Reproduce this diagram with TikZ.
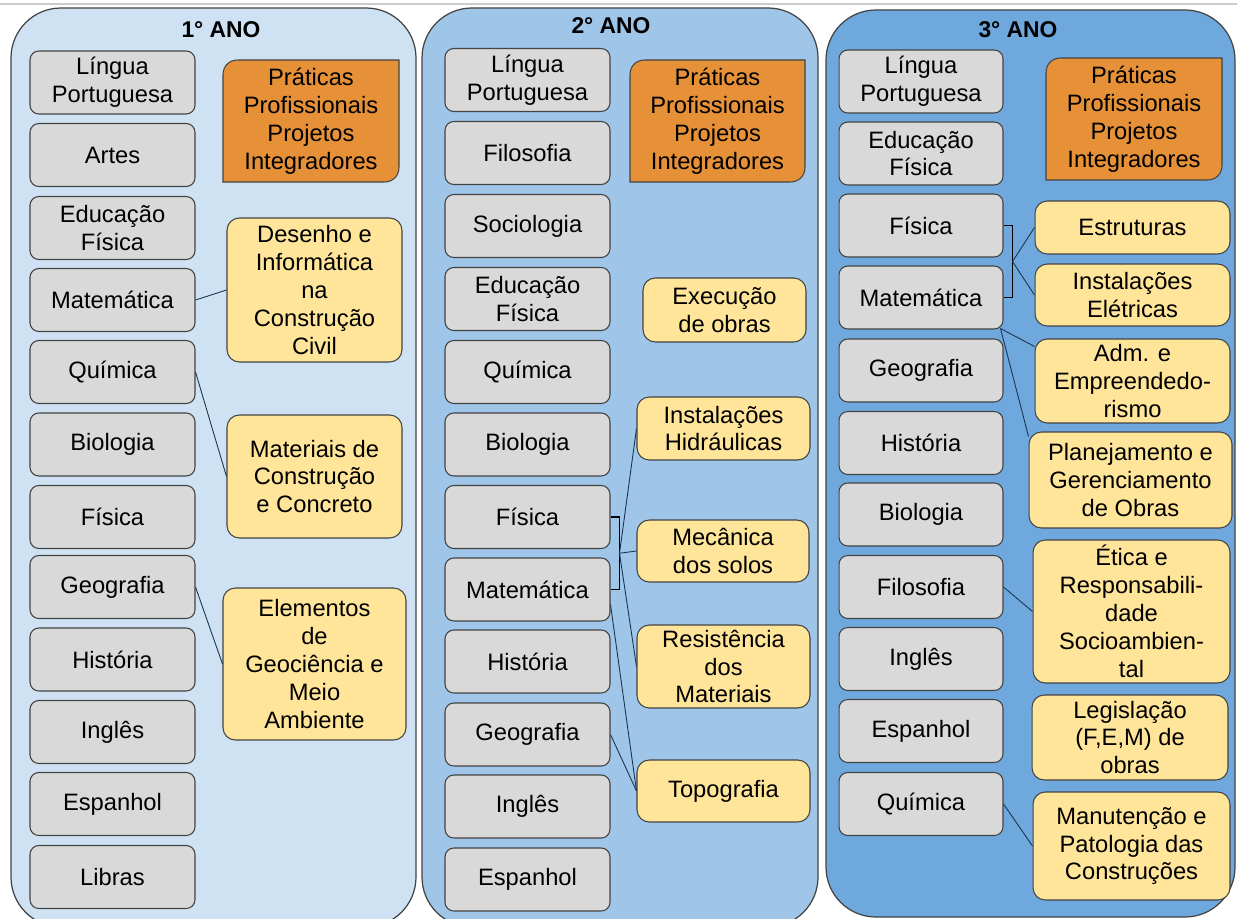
\documentclass[tikz,border=0pt]{standalone}
\usepackage{fontspec}
\setmainfont{Liberation Sans}
\usetikzlibrary{calc}
\definecolor{ano1}{HTML}{CFE2F3}
\definecolor{ano2}{HTML}{9FC5E8}
\definecolor{ano3}{HTML}{6FA8DC}
\definecolor{discgray}{HTML}{D9D9D9}
\definecolor{pratorange}{HTML}{E69138}
\definecolor{techyellow}{HTML}{FFE599}
\definecolor{edge}{HTML}{434343}
\definecolor{linkblue}{HTML}{1C3350}
\newcommand{\subj}{\fontsize{13.5}{15.9}\selectfont}
\tikzset{
  disc/.style={draw=edge, fill=discgray, line width=0.6pt, rounded corners=5pt, minimum width=3.3cm, minimum height=1.26cm, align=center, inner sep=1pt, font=\subj},
  tech/.style={draw=edge, fill=techyellow, line width=0.6pt, rounded corners=7pt, align=center, inner sep=1pt, font=\subj},
  prat/.style={align=center, inner sep=1pt, font=\subj},
  ano/.style={draw=edge, line width=0.7pt, rounded corners=1cm},
  title/.style={font=\fontsize{13}{15}\selectfont\bfseries},
  link/.style={draw=linkblue, line width=0.5pt},
  brace/.style={draw=black, line width=0.9pt},
}

\begin{document}
\begin{tikzpicture}[x=0.02cm, y=-0.02cm]
	\useasboundingbox (0,0) rectangle (1237,919);
	\clip (0,0) rectangle (1237,919);
	\draw[gray!40, line width=1pt] (0,4) -- (1237,4);
	\filldraw[ano, fill=ano1] (11,8) rectangle (416,927);
	\filldraw[ano, fill=ano2] (422,8) rectangle (818,927);
	\filldraw[ano, fill=ano3] (826,10) rectangle (1235,917);
	\node[title] (t1) at (221,30) {1° ANO};
	\node[title] (t2) at (611,26) {2° ANO};
	\node[title] (t3) at (1018,30) {3° ANO};
	%%%%% praticas
	\foreach \n/\xa/\ya/\xb/\yb in {pp1/223/60/399/182, pp2/630/60/805/182, pp3/1046/58/1222/180} {
		\filldraw[fill=pratorange, draw=edge, line width=0.6pt] (\xa,\yb) -- (\xa,\ya+15) .. controls (\xa,\ya+6) and (\xa+6,\ya) .. (\xa+15,\ya) -- (\xb,\ya) -- (\xb,\yb-15) .. controls (\xb,\yb-6) and (\xb-6,\yb) .. (\xb-15,\yb) -- cycle;
		\node[prat] (\n) at ({(\xa+\xb)/2},{(\ya+\yb)/2}) {Práticas\\Profissionais\\Projetos\\Integradores};
	}
	%%%%% 1 ano
	\node[disc] (lp1) at (112.5,82.5) {Língua\\Portuguesa};
	\node[disc] (art1) at (112.5,155) {Artes};
	\node[disc] (ef1) at (112.5,228) {Educação\\Física};
	\node[disc] (mat1) at (112.5,300) {Matemática};
	\node[disc] (qui1) at (112.5,372) {Química};
	\node[disc] (bio1) at (112.5,444.5) {Biologia};
	\node[disc] (fis1) at (112.5,517) {Física};
	\node[disc] (geo1) at (112.5,587) {Geografia};
	\node[disc] (his1) at (112.5,659.5) {História};
	\node[disc] (ing1) at (112.5,732) {Inglês};
	\node[disc] (esp1) at (112.5,804) {Espanhol};
	\node[disc] (lib1) at (112.5,877) {Libras};
	\node[tech, minimum width=3.5cm, minimum height=2.88cm] (des) at (314.5,290) {Desenho e\\Informática\\na\\Construção\\Civil};
	\node[tech, minimum width=3.5cm, minimum height=2.46cm] (matcc) at (314.5,476.5) {Materiais de\\Construção\\e Concreto};
	\node[tech, minimum width=3.66cm, minimum height=3.04cm] (geoma) at (314.5,664) {Elementos\\de\\Geociência e\\Meio\\Ambiente};
	\draw[link] (mat1.east) -- (des.west);
	\draw[link] (qui1.east) -- (matcc.west);
	\draw[link] (geo1.east) -- (geoma.west);
	%%%%% 2 ano
	\node[disc] (lp2) at (527.5,80) {Língua\\Portuguesa};
	\node[disc] (fil2) at (527.5,153) {Filosofia};
	\node[disc] (soc2) at (527.5,226) {Sociologia};
	\node[disc] (ef2) at (527.5,299) {Educação\\Física};
	\node[disc] (qui2) at (527.5,372) {Química};
	\node[disc] (bio2) at (527.5,444.5) {Biologia};
	\node[disc] (fis2) at (527.5,517) {Física};
	\node[disc] (mat2) at (527.5,589.5) {Matemática};
	\node[disc] (his2) at (527.5,661.5) {História};
	\node[disc] (geo2) at (527.5,734.5) {Geografia};
	\node[disc] (ing2) at (527.5,806.5) {Inglês};
	\node[disc] (esp2) at (527.5,879.5) {Espanhol};
	\node[tech, minimum width=3.26cm, minimum height=1.28cm] (exe) at (724.5,310) {Execução\\de obras};
	\node[tech, minimum width=3.46cm, minimum height=1.26cm] (hid) at (723.5,428.5) {Instalações\\Hidráulicas};
	\node[tech, minimum width=3.44cm, minimum height=1.24cm] (mec) at (723,551) {Mecânica\\dos solos};
	\node[tech, minimum width=3.46cm, minimum height=1.66cm] (res) at (723.5,666.5) {Resistência\\dos\\Materiais};
	\node[tech, minimum width=3.46cm, minimum height=1.24cm] (top) at (723.5,791) {Topografia};
	\draw[brace] (fis2.east) -- ++(9,0) coordinate (b2a) -- (b2a |- mat2.east) -- (mat2.east);
	\coordinate (b2) at ($(b2a)!0.5!(b2a |- mat2.east)$);
	\draw[link] (b2) -- (hid.west);
	\draw[link] (b2) -- (mec.west);
	\draw[link] (b2) -- (res.west);
	\draw[link] ($(mat2.east)+(0,15)$) -- (top.west);
	\draw[link] (geo2.east) -- (top.west);
	%%%%% 3 ano
	\node[disc, minimum width=3.28cm] (lp3) at (921,81.5) {Língua\\Portuguesa};
	\node[disc, minimum width=3.28cm] (ef3) at (921,153.5) {Educação\\Física};
	\node[disc, minimum width=3.28cm] (fis3) at (921,225.5) {Física};
	\node[disc, minimum width=3.28cm] (mat3) at (921,297.5) {Matemática};
	\node[disc, minimum width=3.28cm] (geo3) at (921,370.5) {Geografia};
	\node[disc, minimum width=3.28cm] (his3) at (921,443) {História};
	\node[disc, minimum width=3.28cm] (bio3) at (921,514.5) {Biologia};
	\node[disc, minimum width=3.28cm] (fil3) at (921,587) {Filosofia};
	\node[disc, minimum width=3.28cm] (ing3) at (921,659) {Inglês};
	\node[disc, minimum width=3.28cm] (esp3) at (921,731) {Espanhol};
	\node[disc, minimum width=3.28cm] (qui3) at (921,804) {Química};
	\node[tech, minimum width=3.9cm, minimum height=1.06cm] (est) at (1132.5,227.5) {Estruturas};
	\node[tech, minimum width=3.9cm, minimum height=1.24cm] (ele) at (1132.5,295) {Instalações\\Elétricas};
	\node[tech, minimum width=3.9cm, minimum height=1.68cm] (adm) at (1132.5,381) {Adm. e\\Empreendedo-\\rismo};
	\node[tech, minimum width=4.06cm, minimum height=1.92cm] (plan) at (1130.5,480) {Planejamento e\\Gerenciamento\\de Obras};
	\node[tech, minimum width=3.94cm, minimum height=2.86cm] (eti) at (1131.5,611.5) {Ética e\\Responsabili-\\dade\\Socioambien-\\tal};
	\node[tech, minimum width=3.92cm, minimum height=1.7cm] (leg) at (1130,737.5) {Legislação\\(F,E,M) de\\obras};
	\node[tech, minimum width=3.94cm, minimum height=2.16cm] (man) at (1131.5,846) {Manutenção e\\Patologia das\\Construções};
	\draw[brace] (fis3.east) -- ++(9,0) coordinate (b3a) -- (b3a |- mat3.east) -- (mat3.east);
	\coordinate (b3) at ($(b3a)!0.5!(b3a |- mat3.east)$);
	\draw[link] (b3) -- (est.west);
	\draw[link] (b3) -- (ele.west);
	\draw[link] ($(mat3.south east)+(-3,-1)$) -- ($(adm.north west)+(0,8)$);
	\draw[link] ($(mat3.south east)+(-3,-1)$) -- ($(plan.north west)+(0,5)$);
	\draw[link] (fil3.east) -- (eti.west);
	\draw[link] (qui3.east) -- (man.west);
\end{tikzpicture}
\end{document}
